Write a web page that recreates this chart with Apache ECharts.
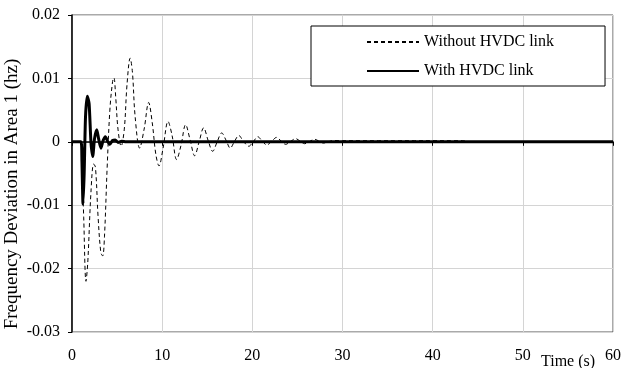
<!DOCTYPE html>
<html>
<head>
<meta charset="utf-8">
<script src="https://cdn.jsdelivr.net/npm/echarts@6/dist/echarts.min.js"></script>
<style>html,body{margin:0;padding:0;background:#fff}#c{width:624px;height:368px}</style>
</head>
<body>
<div id="c"></div>
<script>
// ---- data ----
var seriesNames = ['Without HVDC link', 'With HVDC link'];
var xTickLabels = ['0', '10', '20', '30', '40', '50', '60'];
var yTickLabels = ['-0.03', '-0.02', '-0.01', '0', '0.01', '0.02'];
var xTitle = 'Time (s)';
var yTitle = 'Frequency Deviation in Area 1 (hz)';

var withoutT = [0, 1.0, 1.1, 1.3, 1.55, 1.75, 2.1, 2.4, 2.6, 2.9, 3.2, 3.4, 3.6, 3.9, 4.2, 4.5, 4.65, 4.85, 5.1, 5.45, 5.8, 6.1, 6.45, 6.7, 7.0, 7.5, 8.0, 8.5, 8.9, 9.3, 9.65, 10.1, 10.65, 11.1, 11.6, 12.1, 12.6, 13.1, 13.6, 14.1, 14.6, 15.1, 15.6, 16.1, 16.6, 17.1, 17.55, 18.0, 18.5, 19.0, 19.6, 20.1, 20.6, 21.1, 21.6, 22.1, 22.7, 23.2, 23.7, 24.2, 24.8, 25.3, 25.8, 26.3, 26.9, 27.4, 27.9, 28.4, 29.0, 30, 32, 34, 36, 38, 40, 42, 43.3, 44, 60];
var withoutV = [0, 0, -0.003, -0.012, -0.022, -0.019, -0.008, -0.0035, -0.004, -0.012, -0.0175, -0.018, -0.015, -0.004, 0.005, 0.0095, 0.0101, 0.007, 0.002, -0.0007, 0.002, 0.009, 0.0132, 0.011, 0.004, -0.001, 0.002, 0.0062, 0.003, -0.002, -0.0038, -0.001, 0.0032, 0.001, -0.0028, -0.0005, 0.0027, 0.0003, -0.0022, 0, 0.0022, 0.0002, -0.0015, 0, 0.0014, 0.0002, -0.001, 0, 0.001, 0.0001, -0.0007, 0, 0.0008, 0.0001, -0.0005, 0, 0.0007, 0.0001, -0.0004, 0, 0.0005, 0.0001, -0.0003, 0, 0.0004, 0.0001, -0.0002, 0, 0.0002, 0.00018, 0.00018, 0.00018, 0.00018, 0.00018, 0.00018, 0.00018, 0.00018, 0, 0];

var withT = [0, 1.0, 1.1, 1.22, 1.35, 1.5, 1.7, 1.9, 2.1, 2.3, 2.5, 2.75, 2.95, 3.2, 3.45, 3.7, 3.95, 4.2, 4.5, 4.8, 5.1, 5.5, 6.0, 60];
var withV = [0, 0, -0.003, -0.0098, -0.005, 0.004, 0.0072, 0.006, 0, -0.0023, 0.0005, 0.0019, 0.0005, -0.001, 0.0002, 0.0008, 0.0001, -0.0004, 0.0002, 0.0003, -0.0001, 0.0001, 0, 0];

function pairs(t, v) { return t.map(function (x, i) { return [x, v[i]]; }); }

var FONT = 'Liberation Serif';
var chart = echarts.init(document.getElementById('c'), null, { renderer: 'canvas' });
chart.setOption({
  animation: false,
  backgroundColor: '#fff',
  textStyle: { fontFamily: FONT, color: '#000' },
  grid: { left: 72, right: 10, top: 15, bottom: 36, show: true, borderColor: '#555', borderWidth: 1 },
  legend: {
    orient: 'vertical',
    left: 311, top: 26,
    padding: [8, 51, 7, 55],
    itemWidth: 52, itemHeight: 16, itemGap: 13,
    backgroundColor: '#fff', borderColor: '#000', borderWidth: 1,
    itemStyle: { opacity: 0 },
    textStyle: { fontFamily: FONT, fontSize: 16, color: '#000' },
    data: seriesNames
  },
  xAxis: {
    type: 'value', min: 0, max: 60, interval: 10,
    axisLine: { lineStyle: { color: '#000', width: 1.5 } },
    axisTick: { show: true, inside: false, length: 4, lineStyle: { color: '#000' } },
    axisLabel: { fontFamily: FONT, fontSize: 16, color: '#000', margin: 16,
      formatter: function (v) { return xTickLabels[Math.round(v / 10)]; } },
    splitLine: { show: true, lineStyle: { color: '#d4d4d4', width: 1 } }
  },
  yAxis: {
    type: 'value', min: -0.03, max: 0.02, interval: 0.01,
    axisLine: { show: true, lineStyle: { color: '#000', width: 1.5 } },
    axisTick: { show: true, inside: false, length: 4, lineStyle: { color: '#000' } },
    axisLabel: { fontFamily: FONT, fontSize: 16, color: '#000', margin: 12,
      formatter: function (v) { return yTickLabels[Math.round((v + 0.03) / 0.01)]; } },
    splitLine: { show: true, lineStyle: { color: '#d4d4d4', width: 1 } }
  },
  graphic: [
    { type: 'text', left: 541, top: 354, style: { text: xTitle, font: '16px "Liberation Serif"', fill: '#000' } },
    { type: 'text', x: 12, y: 194, rotation: Math.PI / 2,
      style: { text: yTitle, font: '19px "Liberation Serif"', fill: '#000', align: 'center', verticalAlign: 'middle' } }
  ],
  series: [
    { name: seriesNames[0], type: 'line', data: pairs(withoutT, withoutV), showSymbol: false, symbol: 'none',
      smooth: 0.35, itemStyle: { color: '#000' },
      lineStyle: { color: '#000', width: 1, type: [4, 3] }, z: 3 },
    { name: seriesNames[1], type: 'line', data: pairs(withT, withV), showSymbol: false, symbol: 'none',
      smooth: 0.2, itemStyle: { color: '#000' },
      lineStyle: { color: '#000', width: 3 }, z: 2 }
  ]
});
</script>
</body>
</html>
